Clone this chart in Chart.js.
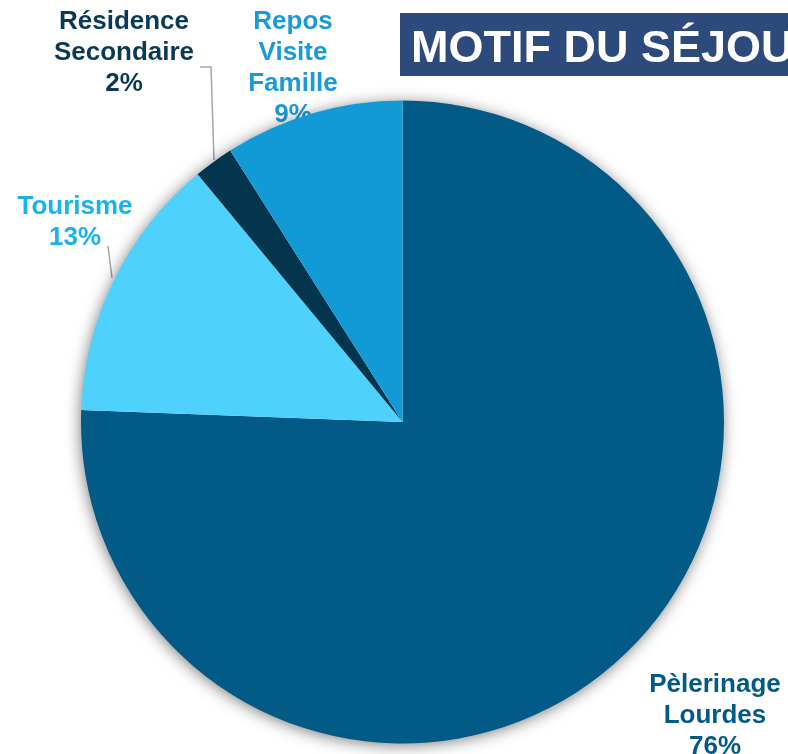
<!DOCTYPE html>
<html>
<head>
<meta charset="utf-8">
<script src="https://cdn.jsdelivr.net/npm/chart.js@4"></script>
<style>
  html, body { margin: 0; padding: 0; background: #fff; overflow: hidden; }
  #wrap { width: 788px; height: 754px; position: relative; }
</style>
</head>
<body>
<div id="wrap"><canvas id="pieChart" width="788" height="754"></canvas></div>
<script>
const motifs = ['Pèlerinage Lourdes', 'Tourisme', 'Résidence Secondaire', 'Repos Visite Famille'];
const parts = [75.6, 13.4, 2.0, 9.0];
const sliceColors = ['#025A86', '#4FD1FE', '#03354F', '#129AD6'];
const textColors = ['#035A86', '#17B3EA', '#0C3A55', '#1A9AD6'];
// label lines (as shown on the chart) and where they sit
const labelLines = [['Pèlerinage', 'Lourdes'], ['Tourisme'], ['Résidence', 'Secondaire'], ['Repos', 'Visite', 'Famille']];
const labelPos = [[715, 685], [75, 207], [124, 22], [293, 22]];
const titleText = 'MOTIF DU SÉJOUR';

const FONT = 'Liberation Sans, Arial, sans-serif';

const decoPlugin = {
  id: 'deco',
  beforeDatasetsDraw(chart) {
    const ctx = chart.ctx;
    const arc = chart.getDatasetMeta(0).data[0];
    ctx.save();

    // title box
    ctx.fillStyle = '#2C4A7B';
    ctx.fillRect(400, 13, 388, 63);
    ctx.fillStyle = '#ffffff';
    ctx.font = 'bold 45px ' + FONT;
    ctx.textAlign = 'left';
    ctx.textBaseline = 'alphabetic';
    ctx.fillText(titleText, 411, 62);

    // leader lines
    ctx.strokeStyle = '#A6A6A6';
    ctx.lineWidth = 1.5;
    ctx.beginPath();
    ctx.moveTo(200, 67);
    ctx.lineTo(211, 67);
    ctx.lineTo(214, 160);
    ctx.stroke();
    ctx.beginPath();
    ctx.moveTo(108, 246);
    ctx.lineTo(112, 278);
    ctx.stroke();

    // labels (drawn before the pie, the pie covers part of them)
    ctx.font = 'bold 26px ' + FONT;
    ctx.textAlign = 'center';
    ctx.textBaseline = 'middle';
    for (let i = 0; i < motifs.length; i++) {
      const lines = labelLines[i].concat([Math.round(parts[i]) + '%']);
      ctx.fillStyle = textColors[i];
      lines.forEach((t, j) => {
        ctx.fillText(t, labelPos[i][0], labelPos[i][1] + j * 31);
      });
    }

    // soft shadow under the pie
    ctx.shadowColor = 'rgba(0,0,0,0.55)';
    ctx.shadowBlur = 16;
    ctx.shadowOffsetX = -1;
    ctx.shadowOffsetY = 2;
    ctx.fillStyle = '#ffffff';
    ctx.beginPath();
    ctx.arc(arc.x, arc.y, arc.outerRadius - 1, 0, Math.PI * 2);
    ctx.fill();
    ctx.restore();
  }
};

const ctx = document.getElementById('pieChart').getContext('2d');
const pieChart = new Chart(ctx, {
  type: 'pie',
  data: {
    labels: motifs,
    datasets: [{
      data: parts,
      backgroundColor: sliceColors,
      borderWidth: 0
    }]
  },
  options: {
    responsive: false,
    animation: false,
    layout: {
      padding: { left: 81, right: 64, top: 100, bottom: 10 }
    },
    plugins: {
      legend: { display: false },
      title: { display: false },
      tooltip: { enabled: false }
    }
  },
  plugins: [decoPlugin]
});
</script>
</body>
</html>
